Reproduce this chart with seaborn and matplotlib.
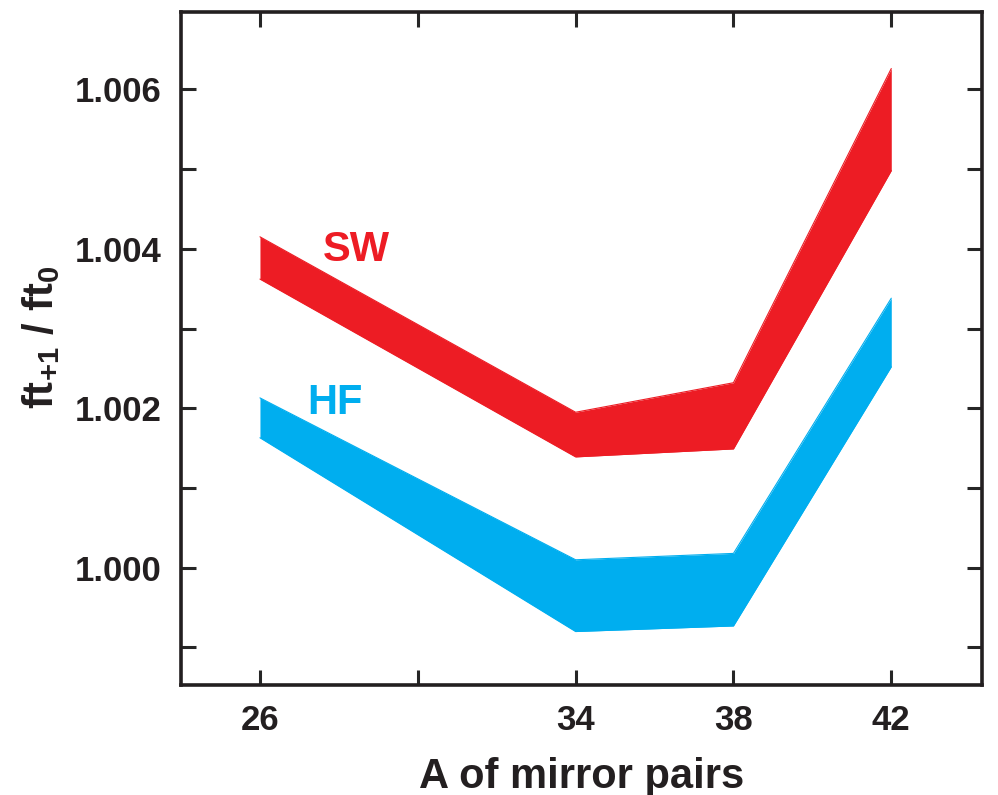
import matplotlib
matplotlib.use("Agg")
import matplotlib.pyplot as plt
import seaborn as sns
import pandas as pd

# mirror pair mass numbers
mass_a = [26, 34, 38, 42]

# ft(+1)/ft(0) bands
sw_upper = [1.00415, 1.00195, 1.00232, 1.00626]
sw_lower = [1.00362, 1.00139, 1.00149, 1.00498]
hf_upper = [1.00213, 1.00010, 1.00018, 1.00338]
hf_lower = [1.00163, 0.99920, 0.99927, 1.00252]

x_ticks = [26, 30, 34, 38, 42]
x_ticklabels = ["26", "", "34", "38", "42"]
y_ticks = [0.999, 1.000, 1.001, 1.002, 1.003, 1.004, 1.005, 1.006]
y_ticklabels = ["", "1.000", "", "1.002", "", "1.004", "", "1.006"]

RED = "#ED1C24"
BLUE = "#00AEEF"
INK = "#231F20"

sns.set_style("ticks")
plt.rcParams["font.family"] = ["Liberation Sans", "DejaVu Sans"]
plt.rcParams["font.weight"] = "bold"
plt.rcParams["mathtext.fontset"] = "custom"
plt.rcParams["mathtext.rm"] = "Liberation Sans:bold"
plt.rcParams["mathtext.it"] = "Liberation Sans:bold"
plt.rcParams["mathtext.bf"] = "Liberation Sans:bold"

df = pd.DataFrame({"A": mass_a, "sw_lo": sw_lower, "sw_hi": sw_upper,
                   "hf_lo": hf_lower, "hf_hi": hf_upper})

fig = plt.figure(figsize=(9.98, 7.95), dpi=100)
ax = fig.add_axes([0.1814, 0.1384, 0.8026, 0.8466])

for lo, hi, col in [("sw_lo", "sw_hi", RED), ("hf_lo", "hf_hi", BLUE)]:
    ax.fill_between(df["A"], df[lo], df[hi], color=col, lw=0)
    sns.lineplot(data=df, x="A", y=lo, color=col, lw=0.8, ax=ax)
    sns.lineplot(data=df, x="A", y=hi, color=col, lw=0.8, ax=ax)

ax.text(28.45, 1.00399, "SW", color=RED, fontsize=30, fontweight="bold",
        ha="center", va="center")
ax.text(27.9, 1.00206, "HF", color=BLUE, fontsize=30, fontweight="bold",
        ha="center", va="center")

ax.set_xlim(24, 44.3)
ax.set_ylim(0.99853, 1.00697)
ax.set_xticks(x_ticks)
ax.set_xticklabels(x_ticklabels)
ax.set_yticks(y_ticks)
ax.set_yticklabels(y_ticklabels)
ax.tick_params(direction="in", length=11, width=2.2, top=True, right=True,
               labelsize=25, pad=14)
for lab in ax.get_xticklabels() + ax.get_yticklabels():
    lab.set_fontweight("bold")
    lab.set_color(INK)
for s in ax.spines.values():
    s.set_linewidth(2.6)
    s.set_color(INK)

ax.set_xlabel("A of mirror pairs", fontsize=30, fontweight="bold",
              color=INK, labelpad=14)
ax.set_ylabel(r"$\mathrm{ft_{+1}\ /\ ft_0}$", fontsize=30, color=INK)
ax.yaxis.set_label_coords(-0.149, 0.517)

fig.savefig("out.png", dpi=100)
